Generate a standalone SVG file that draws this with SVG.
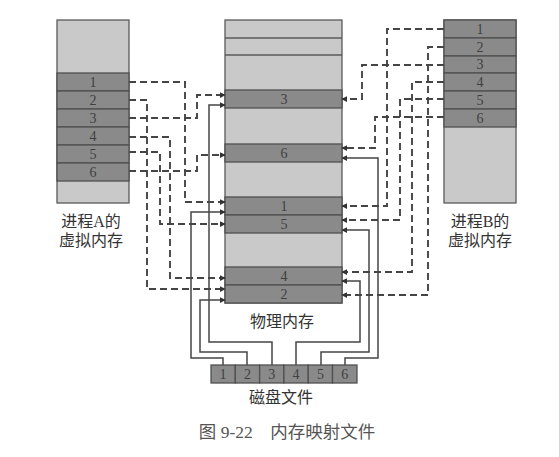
<svg xmlns="http://www.w3.org/2000/svg" width="559" height="457" viewBox="0 0 559 457">
<defs>
<style>
.light{fill:#c9c9c9;stroke:#5a5a5a;stroke-width:1.3}
.dark{fill:#8a8a8a;stroke:#505050;stroke-width:1.3}
.num{font-family:"Liberation Serif",serif;font-size:14px;fill:#404040;text-anchor:middle;dominant-baseline:central}
.lbl{font-family:"Liberation Serif","Noto Sans CJK SC",serif;font-size:16px;fill:#333;text-anchor:middle;dominant-baseline:central}
.dash{fill:none;stroke:#454545;stroke-width:1.9;stroke-dasharray:7 4;marker-end:url(#ah)}
.solid{fill:none;stroke:#454545;stroke-width:1.5;marker-end:url(#ah)}
</style>
<marker id="ah" viewBox="0 0 8 8" refX="7" refY="4" markerWidth="6" markerHeight="6" markerUnits="userSpaceOnUse" orient="auto">
<path d="M0,0 L8,4 L0,8 z" fill="#333"/>
</marker>
</defs>
<rect width="559" height="457" fill="#fff"/>

<g id="procA">
<rect class="light" x="57" y="20" width="72" height="183"/>
<rect class="dark" x="57" y="73" width="72" height="18"/>
<rect class="dark" x="57" y="91" width="72" height="18"/>
<rect class="dark" x="57" y="109" width="72" height="18"/>
<rect class="dark" x="57" y="127" width="72" height="18"/>
<rect class="dark" x="57" y="145" width="72" height="18"/>
<rect class="dark" x="57" y="163" width="72" height="18"/>
<text class="num" x="93" y="82">1</text>
<text class="num" x="93" y="100">2</text>
<text class="num" x="93" y="118">3</text>
<text class="num" x="93" y="136">4</text>
<text class="num" x="93" y="154">5</text>
<text class="num" x="93" y="172">6</text>
<text class="lbl" x="91" y="221">进程A的</text>
<text class="lbl" x="91" y="240">虚拟内存</text>
</g>

<g id="physmem">
<rect class="light" x="225" y="20" width="117" height="283"/>
<line x1="225" y1="38" x2="342" y2="38" stroke="#5a5a5a" stroke-width="1.3"/>
<line x1="225" y1="55" x2="342" y2="55" stroke="#5a5a5a" stroke-width="1.3"/>
<rect class="dark" x="225" y="90" width="117" height="18"/>
<rect class="dark" x="225" y="144" width="117" height="18"/>
<rect class="dark" x="225" y="197" width="117" height="18"/>
<rect class="dark" x="225" y="215" width="117" height="18"/>
<rect class="dark" x="225" y="267" width="117" height="18"/>
<rect class="dark" x="225" y="285" width="117" height="18"/>
<text class="num" x="284" y="99">3</text>
<text class="num" x="284" y="153">6</text>
<text class="num" x="284" y="206">1</text>
<text class="num" x="284" y="224">5</text>
<text class="num" x="284" y="276">4</text>
<text class="num" x="284" y="294">2</text>
<text class="lbl" x="282" y="321">物理内存</text>
</g>

<g id="procB">
<rect class="light" x="444" y="20" width="72" height="183"/>
<rect class="dark" x="444" y="20" width="72" height="18"/>
<rect class="dark" x="444" y="38" width="72" height="18"/>
<rect class="dark" x="444" y="56" width="72" height="17"/>
<rect class="dark" x="444" y="73" width="72" height="18"/>
<rect class="dark" x="444" y="91" width="72" height="18"/>
<rect class="dark" x="444" y="109" width="72" height="18"/>
<text class="num" x="480" y="29">1</text>
<text class="num" x="480" y="47">2</text>
<text class="num" x="480" y="64">3</text>
<text class="num" x="480" y="82">4</text>
<text class="num" x="480" y="100">5</text>
<text class="num" x="480" y="118">6</text>
<text class="lbl" x="480" y="221">进程B的</text>
<text class="lbl" x="480" y="240">虚拟内存</text>
</g>

<g id="disk">
<rect class="dark" x="211" y="365" width="24.3" height="18"/>
<rect class="dark" x="235.3" y="365" width="24.3" height="18"/>
<rect class="dark" x="259.6" y="365" width="24.3" height="18"/>
<rect class="dark" x="283.9" y="365" width="24.3" height="18"/>
<rect class="dark" x="308.2" y="365" width="24.3" height="18"/>
<rect class="dark" x="332.5" y="365" width="24.5" height="18"/>
<text class="num" x="223" y="374">1</text>
<text class="num" x="247.5" y="374">2</text>
<text class="num" x="271.8" y="374">3</text>
<text class="num" x="296" y="374">4</text>
<text class="num" x="320.4" y="374">5</text>
<text class="num" x="344.7" y="374">6</text>
<text class="lbl" x="281" y="397">磁盘文件</text>
</g>

<g id="connectors">
<path class="dash" d="M129,82 H185 V202 H225"/>
<path class="dash" d="M129,100 H147 V289 H225"/>
<path class="dash" d="M129,118 H197 V95 H225"/>
<path class="dash" d="M129,137 H170 V278 H225"/>
<path class="dash" d="M129,152 H160 V224 H225"/>
<path class="dash" d="M129,171 H197 V155 H225"/>
<path class="dash" d="M444,29 H387 V206 H342"/>
<path class="dash" d="M444,47 H428 V295 H342"/>
<path class="dash" d="M444,65 H362 V99 H342"/>
<path class="dash" d="M444,82 H412 V272 H342"/>
<path class="dash" d="M444,99 H400 V220 H342"/>
<path class="dash" d="M444,117 H375 V148 H342"/>
<path class="solid" d="M223,365 V358 H191 V212 H225"/>
<path class="solid" d="M247,365 V352 H200 V300 H225"/>
<path class="solid" d="M272,365 V342 H209 V105 H225"/>
<path class="solid" d="M296,365 V342 H360 V281 H342"/>
<path class="solid" d="M321,365 V352 H369 V230 H342"/>
<path class="solid" d="M345,365 V358 H378 V158 H342"/>
</g>

<text class="lbl" x="287" y="432" style="font-size:17.5px;fill:#555" xml:space="preserve">图 9-22    内存映射文件</text>
</svg>
